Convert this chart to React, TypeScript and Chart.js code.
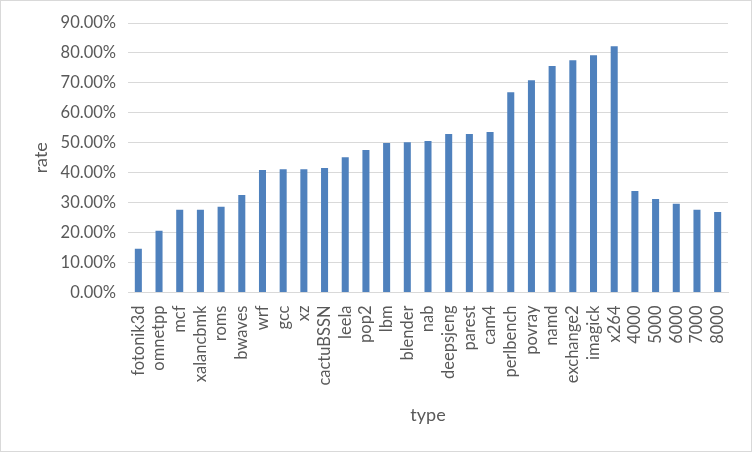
import React, { useEffect, useRef } from "react";
import { Chart, registerables } from "chart.js";

Chart.register(...registerables);

const categories = [
  "fotonik3d", "omnetpp", "mcf", "xalancbmk", "roms", "bwaves", "wrf", "gcc", "xz",
  "cactuBSSN", "leela", "pop2", "lbm", "blender", "nab", "deepsjeng", "parest", "cam4",
  "perlbench", "povray", "namd", "exchange2", "imagick", "x264",
  "4000", "5000", "6000", "7000", "8000",
];

const rates = [
  0.146, 0.206, 0.276, 0.276, 0.286, 0.326, 0.409, 0.412, 0.412,
  0.416, 0.452, 0.476, 0.499, 0.502, 0.506, 0.529, 0.529, 0.536,
  0.669, 0.709, 0.756, 0.776, 0.792, 0.822,
  0.339, 0.312, 0.296, 0.276, 0.269,
];

const yMax = 0.9;
const yStep = 0.1;

const FONT = "Lato, 'Liberation Sans', sans-serif";
const TEXT = "#595959";
const GRID = "#d9d9d9";

export default function App() {
  const ref = useRef<HTMLCanvasElement>(null);

  useEffect(() => {
    document.body.style.margin = "0";
    const chart = new Chart(ref.current!, {
      type: "bar",
      data: {
        labels: categories,
        datasets: [
          {
            label: "rate",
            data: rates,
            backgroundColor: "#4f81bd",
            categoryPercentage: 1,
            barPercentage: 0.34,
          },
        ],
      },
      options: {
        animation: false,
        responsive: false,
        devicePixelRatio: 1,
        layout: { padding: { left: 0, top: 23, right: 24, bottom: 0 } },
        plugins: { legend: { display: false }, tooltip: { enabled: false } },
        scales: {
          x: {
            grid: { display: false },
            border: { display: true, color: GRID, width: 1 },
            ticks: {
              color: TEXT,
              font: { family: FONT, size: 16.5 },
              minRotation: 90,
              maxRotation: 90,
              autoSkip: false,
              padding: 5,
            },
            title: {
              display: true,
              text: "type",
              color: TEXT,
              font: { family: FONT, size: 18 },
              padding: { top: 0, bottom: 26 },
            },
            afterFit: (s: any) => {
              s.height = 159.5;
            },
          },
          y: {
            min: 0,
            max: yMax,
            grid: { color: GRID, lineWidth: 1, drawTicks: false },
            border: { display: false },
            ticks: {
              stepSize: yStep,
              color: TEXT,
              font: { family: FONT, size: 16.5 },
              padding: 12,
              callback: (v: any) => (Number(v) * 100).toFixed(2) + "%",
            },
            title: {
              display: true,
              text: "rate",
              color: TEXT,
              font: { family: FONT, size: 18 },
              padding: { top: 30, bottom: 0 },
            },
            afterFit: (s: any) => {
              s.width = 128;
            },
          },
        },
      },
    });
    return () => chart.destroy();
  }, []);

  return (
    <div style={{ position: "absolute", left: 0, top: 0, width: 752, height: 452, background: "#fff" }}>
      <canvas ref={ref} width={752} height={452} style={{ display: "block" }} />
      <div
        style={{
          position: "absolute",
          left: 0,
          top: 0,
          width: 752,
          height: 452,
          boxSizing: "border-box",
          border: "1px solid #d9d9d9",
          pointerEvents: "none",
        }}
      />
    </div>
  );
}
